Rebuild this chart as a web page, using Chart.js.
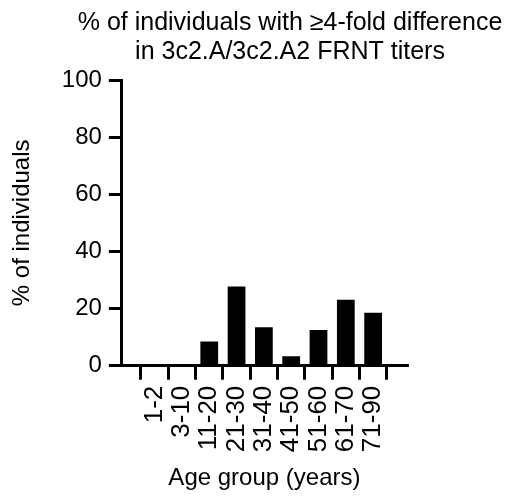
<!DOCTYPE html>
<html>
<head>
<meta charset="utf-8">
<script src="https://cdn.jsdelivr.net/npm/chart.js@4/dist/chart.umd.min.js"></script>
<style>
  html, body { margin: 0; padding: 0; background: #fff; }
  #wrap { width: 507px; height: 501px; }
</style>
</head>
<body>
<div id="wrap"><canvas id="chart" width="507" height="501"></canvas></div>
<script>
// age groups and % of individuals with >=4-fold difference
const ageGroups = ['1-2', '3-10', '11-20', '21-30', '31-40', '41-50', '51-60', '61-70', '71-90'];
const pctIndividuals = [0, 0, 8.5, 27.7, 13.5, 3.3, 12.5, 23.1, 18.5];
const yTicks = [0, 20, 40, 60, 80, 100];
const titleLines = ['% of individuals with \u22654-fold difference', 'in 3c2.A/3c2.A2 FRNT titers'];

const FONT = '"Liberation Sans", Arial, Helvetica, sans-serif';

// two-line title, sits a bit right of the plot like the original
const titlePlugin = {
  id: 'sideTitle',
  afterDraw(chart) {
    const ctx = chart.ctx;
    ctx.save();
    ctx.fillStyle = '#000';
    ctx.font = '25px ' + FONT;
    ctx.textAlign = 'center';
    ctx.textBaseline = 'middle';
    titleLines.forEach((t, i) => ctx.fillText(t, 290, 23 + i * 29));
    ctx.restore();
  }
};

const points = pctIndividuals.map((v, i) => ({ x: i, y: v }));

new Chart(document.getElementById('chart').getContext('2d'), {
  type: 'bar',
  data: {
    datasets: [{
      data: points,
      backgroundColor: '#000',
      borderWidth: 0,
      categoryPercentage: 1,
      barPercentage: 0.65,
    }],
  },
  options: {
    responsive: false,
    animation: false,
    layout: { padding: { top: 80, right: 100, left: 8, bottom: 8 } },
    plugins: { legend: { display: false }, tooltip: { enabled: false } },
    scales: {
      x: {
        type: 'linear',
        min: -0.62,
        max: 8.66,
        border: { color: '#000', width: 3 },
        grid: { drawOnChartArea: false, color: '#000', lineWidth: 3, tickLength: 14 },
        afterBuildTicks: (scale) => { scale.ticks = ageGroups.map((_, i) => ({ value: i })); },
        ticks: {
          autoSkip: false,
          minRotation: 90,
          maxRotation: 90,
          padding: 6,
          color: '#000',
          font: { family: FONT, size: 26 },
          callback: (v) => ageGroups[v],
        },
        title: { display: true, text: 'Age group (years)', color: '#000', font: { family: FONT, size: 24 }, padding: { top: 6, bottom: 0 } },
      },
      y: {
        min: 0,
        max: 100,
        border: { color: '#000', width: 3 },
        grid: {
          drawOnChartArea: false,
          color: '#000',
          lineWidth: 3,
          tickLength: 13,
          // minor ticks at the odd tens are shorter
          tickBorderDash: (c) => (c.tick && c.tick.value % 20 !== 0) ? [0, 5, 8, 100] : [],
        },
        afterBuildTicks: (scale) => {
          const t = [];
          for (let v = 0; v <= 100; v += 10) t.push({ value: v });
          scale.ticks = t;
        },
        ticks: {
          padding: 7,
          color: '#000',
          font: { family: FONT, size: 24 },
          callback: (v) => yTicks.includes(v) ? String(v) : '',
        },
        title: { display: true, text: '% of individuals', color: '#000', font: { family: FONT, size: 24 }, padding: { top: 0, bottom: 18 } },
      },
    },
  },
  plugins: [titlePlugin],
});
</script>
</body>
</html>
